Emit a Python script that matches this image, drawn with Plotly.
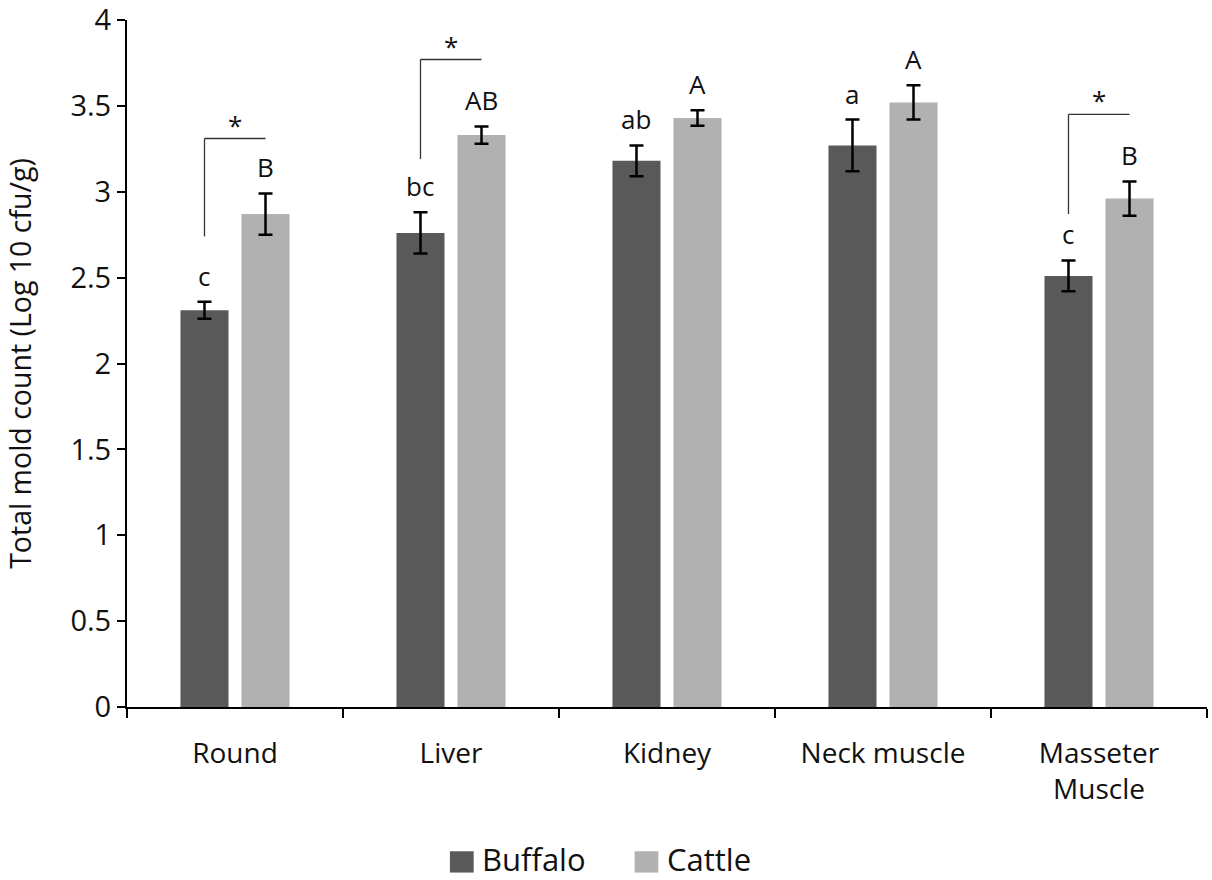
import plotly.graph_objects as go

# Tissue categories and mean total mold counts (log10 cfu/g)
categories = ["Round", "Liver", "Kidney", "Neck muscle", "Masseter<br>Muscle"]
buffalo_mean = [2.31, 2.76, 3.18, 3.27, 2.51]
buffalo_err = [0.05, 0.12, 0.09, 0.15, 0.09]
cattle_mean = [2.87, 3.33, 3.43, 3.52, 2.96]
cattle_err = [0.12, 0.05, 0.045, 0.10, 0.10]

# Significance letters (lowercase: buffalo, uppercase: cattle)
buffalo_letters = ["c", "bc", "ab", "a", "c"]
cattle_letters = ["B", "AB", "A", "A", "B"]

# Species comparisons marked with an asterisk: (category index, bracket bottom, bracket top)
sig_pairs = [(0, 2.74, 3.31), (1, 3.19, 3.77), (4, 2.87, 3.45)]

y_ticks = [0, 0.5, 1, 1.5, 2, 2.5, 3, 3.5, 4]

series_names = ["Buffalo", "Cattle"]
BUFFALO_COLOR = "#595959"
CATTLE_COLOR = "#b1b1b1"
FONT = "Open Sans"

fig = go.Figure()
fig.add_trace(go.Bar(
    x=categories, y=buffalo_mean, name=series_names[0],
    marker=dict(color=BUFFALO_COLOR, line=dict(width=0)),
    error_y=dict(type="data", array=buffalo_err, color="black", thickness=2.5, width=7),
))
fig.add_trace(go.Bar(
    x=categories, y=cattle_mean, name=series_names[1],
    marker=dict(color=CATTLE_COLOR, line=dict(width=0)),
    error_y=dict(type="data", array=cattle_err, color="black", thickness=2.5, width=7),
))

# Bar offsets within a group (category units), consistent with bargap/bargroupgap
slot = (1 - 0.435) / 2
off_b = -slot / 2
off_c = slot / 2

annotations = []
for i, cat in enumerate(categories):
    annotations.append(dict(
        x=i + off_b, y=buffalo_mean[i] + buffalo_err[i], xref="x", yref="y",
        text=buffalo_letters[i], showarrow=False, yanchor="bottom", yshift=6,
        font=dict(family=FONT, size=26, color="#111"),
    ))
    annotations.append(dict(
        x=i + off_c, y=cattle_mean[i] + cattle_err[i], xref="x", yref="y",
        text=cattle_letters[i], showarrow=False, yanchor="bottom", yshift=6,
        font=dict(family=FONT, size=26, color="#111"),
    ))

shapes = []
for idx, lo, hi in sig_pairs:
    xb = idx + off_b
    xc = idx + off_c
    shapes.append(dict(type="line", xref="x", yref="y", x0=xb, x1=xb, y0=lo, y1=hi,
                       line=dict(color="#333", width=1.3)))
    shapes.append(dict(type="line", xref="x", yref="y", x0=xb, x1=xc, y0=hi, y1=hi,
                       line=dict(color="#333", width=1.3)))
    annotations.append(dict(
        x=(xb + xc) / 2, y=hi, xref="x", yref="y", text="*", showarrow=False,
        yanchor="bottom", yshift=-6, font=dict(family=FONT, size=26, color="#111"),
    ))

# Legend drawn below the axis with large square swatches
legend_items = [(series_names[0], BUFFALO_COLOR, 0.299), (series_names[1], CATTLE_COLOR, 0.470)]
for name, color, x0 in legend_items:
    shapes.append(dict(type="rect", xref="paper", yref="paper",
                       x0=x0, x1=x0 + 0.022, y0=-0.241, y1=-0.210,
                       fillcolor=color, line=dict(width=0)))
    annotations.append(dict(
        x=x0 + 0.028, y=-0.2215, xref="paper", yref="paper", text=name,
        showarrow=False, xanchor="left", yanchor="middle",
        font=dict(family=FONT, size=31, color="#111"),
    ))

fig.update_layout(
    width=1212, height=880,
    margin=dict(l=127, r=5, t=20, b=173),
    paper_bgcolor="white", plot_bgcolor="white",
    barmode="group", bargap=0.435, bargroupgap=0.213,
    showlegend=False,
    font=dict(family=FONT, color="#111"),
    shapes=shapes, annotations=annotations,
)
fig.update_xaxes(
    showline=True, linecolor="black", linewidth=2,
    ticks="outside", tickson="boundaries", ticklen=9, tickwidth=1.5, tickcolor="black",
    tickfont=dict(family=FONT, size=28, color="#111"),
    ticklabelstandoff=20, automargin=False,
    showgrid=False, zeroline=False,
)
fig.update_yaxes(
    range=[0, 4], tickmode="array", tickvals=y_ticks,
    ticktext=[f"{v:g}" for v in y_ticks],
    ticklabeloverflow="allow", automargin=False,
    showline=True, linecolor="black", linewidth=2,
    ticks="outside", ticklen=8, tickwidth=1.5, tickcolor="black",
    tickfont=dict(family=FONT, size=29, color="#111"),
    showgrid=False, zeroline=False,
    title=dict(text="Total mold count (Log 10 cfu/g)", font=dict(family=FONT, size=28.5, color="#111"),
               standoff=30),
)

fig.write_html("out.html")
